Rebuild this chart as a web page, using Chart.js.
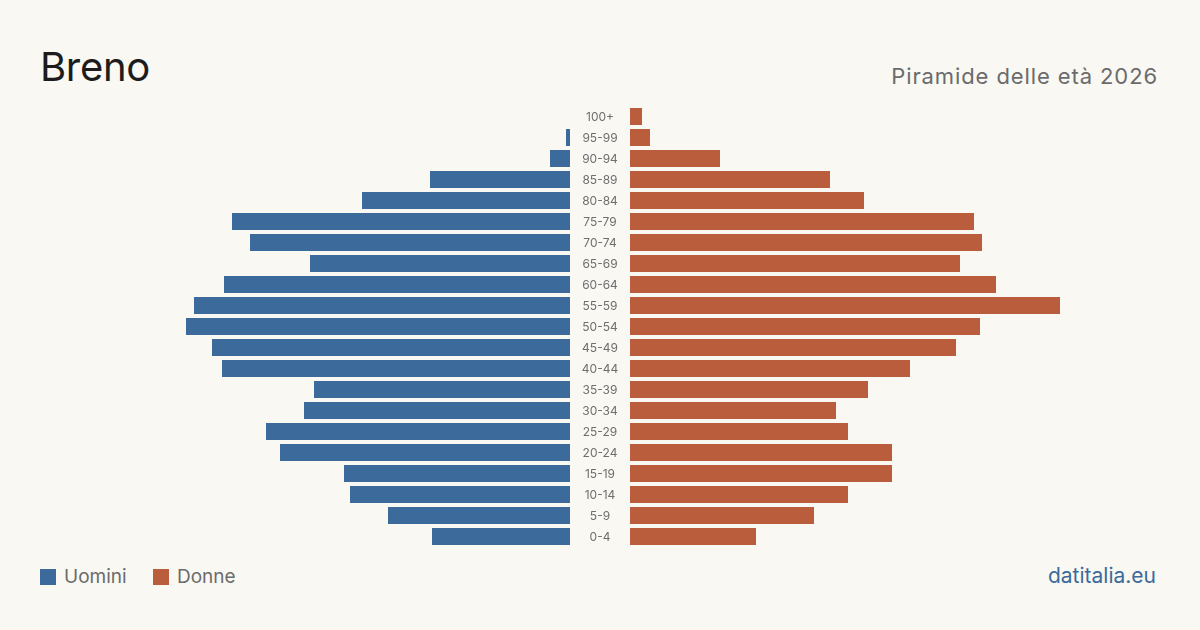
<!DOCTYPE html>
<html>
<head>
<meta charset="utf-8">
<script src="https://cdn.jsdelivr.net/npm/chart.js@4"></script>
<style>
  html, body { margin: 0; padding: 0; }
  body { width: 1200px; height: 630px; background: #f9f8f3; position: relative; overflow: hidden; font-family: Inter, "Noto Sans", sans-serif; }
  .abs { position: absolute; line-height: 1; white-space: nowrap; }
  #title { left: 40px; top: 47px; font-size: 40px; color: #1c1c1c; letter-spacing: -0.3px; }
  #subtitle { right: 42px; top: 65px; font-size: 22px; color: #6b6b6b; letter-spacing: 0.9px; }
  #brand { right: 44px; top: 565px; font-size: 21px; color: #3b6a9b; }
  .leg { top: 567px; font-size: 19px; color: #6b6b6b; display: flex; align-items: center; }
  .leg span.sw { width: 16px; height: 16px; display: inline-block; margin-right: 8px; }
  #left { position: absolute; left: 70px; top: 106px; width: 500px; height: 441px; }
  #right { position: absolute; left: 570px; top: 106px; width: 560px; height: 441px; }
</style>
</head>
<body>
<div class="abs" id="title">Breno</div>
<div class="abs" id="subtitle">Piramide delle età 2026</div>
<div class="abs leg" style="left:40px"><span class="sw" style="background:#3b6a9b"></span>Uomini</div>
<div class="abs leg" style="left:153px"><span class="sw" style="background:#b95d3c"></span>Donne</div>
<div class="abs" id="brand">datitalia.eu</div>
<div id="left"><canvas id="maleChart"></canvas></div>
<div id="right"><canvas id="femaleChart"></canvas></div>
<script>
// ===== Data =====
const ageGroups = ["100+", "95-99", "90-94", "85-89", "80-84", "75-79", "70-74", "65-69", "60-64", "55-59",
  "50-54", "45-49", "40-44", "35-39", "30-34", "25-29", "20-24", "15-19", "10-14", "5-9", "0-4"];
const uomini = [0, 2, 10, 70, 104, 169, 160, 130, 173, 188, 192, 179, 174, 128, 133, 152, 145, 113, 110, 91, 69];
const donne = [6, 10, 45, 100, 117, 172, 176, 165, 183, 215, 175, 163, 140, 119, 103, 109, 131, 131, 109, 92, 63];
const maxValue = 250;

const blue = "#3b6a9b";
const red = "#b95d3c";

Chart.defaults.font.family = "Inter, 'Noto Sans', sans-serif";
Chart.defaults.animation = false;

const commonOptions = {
  indexAxis: "y",
  responsive: true,
  maintainAspectRatio: false,
  plugins: { legend: { display: false }, tooltip: { enabled: false } },
};

// age labels drawn in the gap between the two halves
const ageLabels = {
  id: "ageLabels",
  afterDraw(chart) {
    const { ctx, chartArea, scales } = chart;
    ctx.save();
    ctx.fillStyle = "#6e6e6e";
    ctx.font = "12px Inter, 'Noto Sans', sans-serif";
    ctx.textAlign = "center";
    ctx.textBaseline = "middle";
    ageGroups.forEach((g, i) => {
      ctx.fillText(g, chartArea.left - 30, scales.y.getPixelForValue(i) + 1);
    });
    ctx.restore();
  },
};

// Uomini (left side, reversed)
new Chart(document.getElementById("maleChart"), {
  type: "bar",
  data: {
    labels: ageGroups,
    datasets: [{ data: uomini, backgroundColor: blue, barPercentage: 0.81, categoryPercentage: 1 }],
  },
  options: {
    ...commonOptions,
    layout: { padding: 0 },
    scales: {
      x: { display: false, min: 0, max: maxValue, reverse: true },
      y: { display: false },
    },
  },
});

// Donne (right side)
new Chart(document.getElementById("femaleChart"), {
  type: "bar",
  data: {
    labels: ageGroups,
    datasets: [{ data: donne, backgroundColor: red, barPercentage: 0.81, categoryPercentage: 1 }],
  },
  options: {
    ...commonOptions,
    layout: { padding: { left: 60 } },
    scales: {
      x: { display: false, min: 0, max: maxValue },
      y: { display: false },
    },
  },
  plugins: [ageLabels],
});
</script>
</body>
</html>
